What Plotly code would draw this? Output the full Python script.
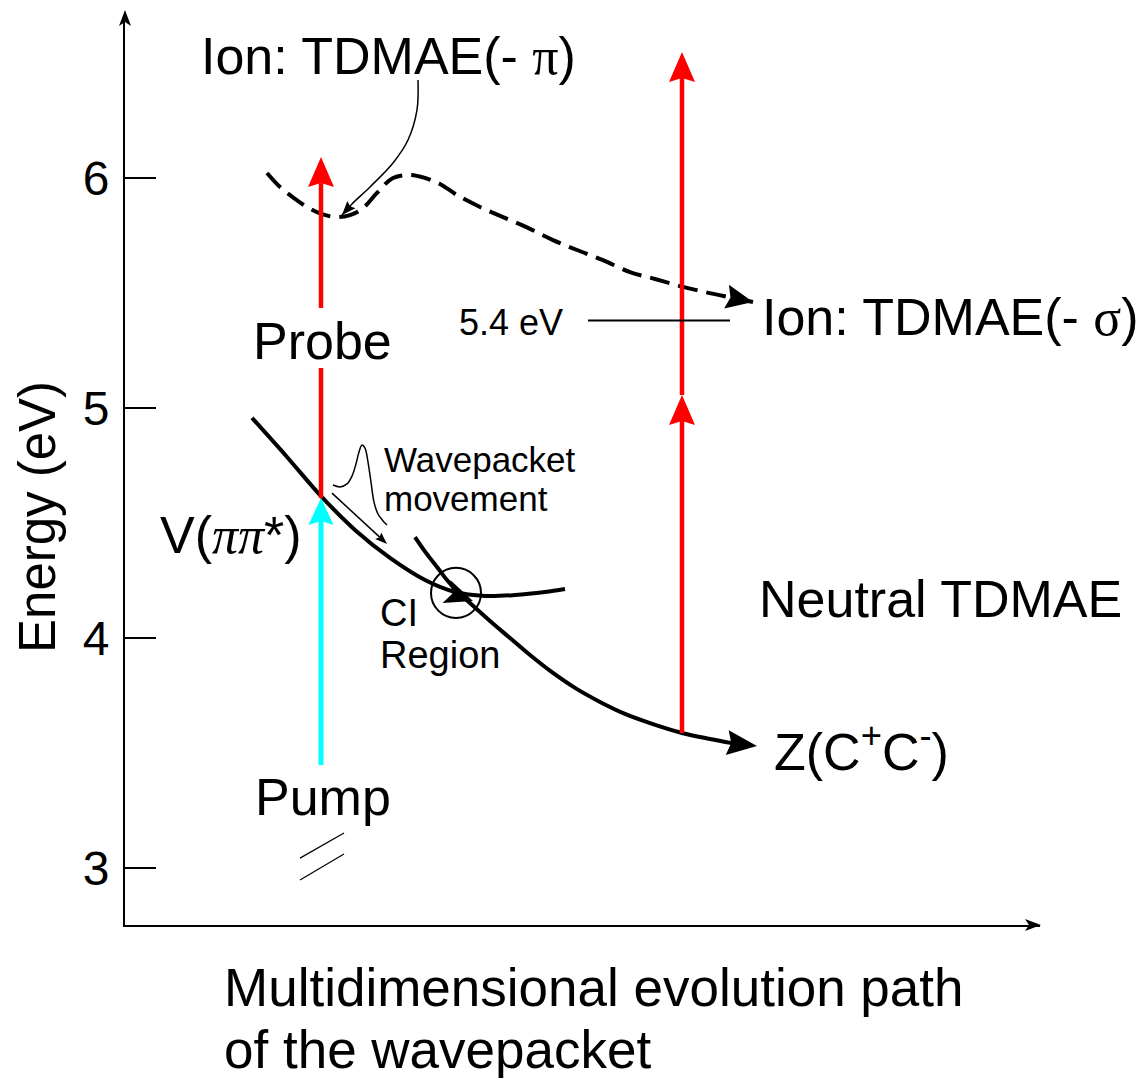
import plotly.graph_objects as go

# ---------------- data (path coordinate s, energy E in eV) ----------------
ion_s = [1.42, 1.55, 1.70, 1.82, 1.97, 2.12, 2.25, 2.37, 2.52, 2.68, 2.85, 3.00, 3.15,
         3.32, 3.55, 3.78, 4.03, 4.28, 4.52, 4.78, 5.05, 5.30, 5.55, 5.80, 6.03]
ion_E = [6.022, 5.961, 5.909, 5.874, 5.843, 5.830, 5.839, 5.865, 5.935, 6.000, 6.013, 6.000, 5.974,
         5.926, 5.874, 5.830, 5.783, 5.730, 5.687, 5.643, 5.591, 5.561, 5.530, 5.504, 5.483]
ion_tip = (6.28, 5.461)

v_s = [1.27, 1.62, 1.96, 2.30, 2.65, 3.00, 3.30, 3.60, 3.90, 4.20, 4.40]
v_E = [4.957, 4.787, 4.617, 4.470, 4.348, 4.252, 4.200, 4.183, 4.187, 4.200, 4.213]

z_s = [2.90, 3.01, 3.12, 3.22, 3.32, 3.45, 3.65, 3.85, 4.05, 4.28, 4.50, 4.75, 5.00, 5.25, 5.57, 5.85, 6.07]
z_E = [4.439, 4.370, 4.309, 4.252, 4.204, 4.152, 4.074, 4.000, 3.926, 3.848, 3.783, 3.722, 3.670, 3.630, 3.587, 3.561, 3.543]
z_tip = (6.32, 3.530)

# pump / probe transitions
pump_s = 1.96
pump_E = [3.448, 4.609]
probe1_s = 1.96
probe1_low = [4.609, 5.174]
probe1_high = [5.435, 6.091]
probe2_s = 5.57
probe2_low = [3.587, 5.057]
probe2_high = [5.057, 6.548]

ion_threshold = 5.38          # "5.4 eV" marker
threshold_s = [4.63, 6.05]

# wavepacket sketch
wp_s = [2.08, 2.15, 2.22, 2.27, 2.31, 2.34, 2.37, 2.40, 2.43, 2.46, 2.49, 2.53, 2.58, 2.62]
wp_E = [4.665, 4.657, 4.670, 4.704, 4.757, 4.809, 4.839, 4.826, 4.765, 4.678, 4.591, 4.539, 4.509, 4.491]
wp_arrow_s = [2.07, 2.62]
wp_arrow_E = [4.630, 4.409]

# pointer from "Ion: TDMAE(- pi)" label
ptr_s = [2.93, 2.92, 2.83, 2.68, 2.45, 2.27, 2.17]
ptr_E = [6.426, 6.296, 6.165, 6.065, 5.961, 5.887, 5.839]

# conical intersection marker
ci_center = (3.31, 4.196)
ci_radius_s = 0.25
ci_radius_E = 0.109
ci_arrow_from = (3.20, 4.204)
ci_arrow_tip = (3.48, 4.161)

# axis-break slashes
slash1_s = [1.75, 2.19]
slash1_E = [3.043, 3.152]
slash2_s = [1.75, 2.19]
slash2_E = [2.948, 3.061]

y_ticks = [3, 4, 5, 6]

# ---------------- geometry helpers ----------------
W, H = 1148, 1078
ML, MR, MT, MB = 125, 108, 15, 153
S_MAX = 9.15
E_TOP, E_BOT = 6.7087, 2.7522
PW, PH = W - ML - MR, H - MT - MB


def px(s):
    return ML + s * PW / S_MAX


def py(E):
    return MT + (E_TOP - E) * PH / (E_TOP - E_BOT)


def ds(p):
    return (p - ML) * S_MAX / PW


def dE(p):
    return E_TOP - (p - MT) * (E_TOP - E_BOT) / PH


def head(tip, frm, length, width, notch=4.0):
    tx, ty = px(tip[0]), py(tip[1])
    fx, fy = px(frm[0]), py(frm[1])
    dx, dy = tx - fx, ty - fy
    n = (dx * dx + dy * dy) ** 0.5
    ux, uy = dx / n, dy / n
    bx, by = tx - ux * length, ty - uy * length
    nx, ny = -uy, ux
    pts = [(tx, ty), (bx + nx * width / 2, by + ny * width / 2),
           (tx - ux * (length - notch), ty - uy * (length - notch)),
           (bx - nx * width / 2, by - ny * width / 2)]
    return "M " + " L ".join(f"{ds(x):.5f},{dE(y):.5f}" for x, y in pts) + " Z"


def line_end(tip, frm, length, notch=4.0):
    tx, ty = px(tip[0]), py(tip[1])
    fx, fy = px(frm[0]), py(frm[1])
    dx, dy = tx - fx, ty - fy
    n = (dx * dx + dy * dy) ** 0.5
    k = (length - notch) / n
    return ds(tx - dx * k), dE(ty - dy * k)


FONT = "Liberation Sans, Arial, sans-serif"
SERIF = "Liberation Serif, Times New Roman, serif"
RED, CYAN = "#ff0000", "#00ffff"

fig = go.Figure()
shapes = []


def add_line(xs, ys, color="black", width=4, dash=None, spline=False):
    ln = dict(color=color, width=width)
    if dash:
        ln["dash"] = dash
    if spline:
        ln["shape"] = "spline"
        ln["smoothing"] = 1.0
    fig.add_trace(go.Scatter(x=xs, y=ys, mode="lines", line=ln, hoverinfo="skip", showlegend=False))


def add_head(tip, frm, length, width, color="black", notch=4.0):
    shapes.append(dict(type="path", xref="x", yref="y", path=head(tip, frm, length, width, notch),
                       fillcolor=color, line=dict(width=0), layer="above"))


# ion curve (dashed) with arrow
add_line(ion_s + [ion_tip[0]], ion_E + [ion_tip[1]], width=4, dash="20px,9px", spline=True)
add_head(ion_tip, (ion_s[-1], ion_E[-1]), 27, 24)

# neutral curves
add_line(v_s, v_E, width=4, spline=True)
add_line(z_s, z_E, width=4, spline=True)
add_head(z_tip, (z_s[-1], z_E[-1]), 30, 25)

# pump (cyan)
p_tip = (pump_s, pump_E[1])
p_end = line_end(p_tip, (pump_s, pump_E[0]), 27)
add_line([pump_s, pump_s], [pump_E[0], p_end[1]], color=CYAN, width=5)
add_head(p_tip, (pump_s, pump_E[0]), 27, 25, color=CYAN)

# probe 1 (red)
add_line([probe1_s, probe1_s], probe1_low, color=RED, width=4.5)
t1 = (probe1_s, probe1_high[1])
e1 = line_end(t1, (probe1_s, probe1_high[0]), 30)
add_line([probe1_s, probe1_s], [probe1_high[0], e1[1]], color=RED, width=4.5)
add_head(t1, (probe1_s, probe1_high[0]), 30, 26, color=RED)

# probe 2 (red, two photons)
t2a = (probe2_s, probe2_low[1])
e2a = line_end(t2a, (probe2_s, probe2_low[0]), 30)
add_line([probe2_s, probe2_s], [probe2_low[0], e2a[1]], color=RED, width=4.5)
add_head(t2a, (probe2_s, probe2_low[0]), 30, 26, color=RED)
t2b = (probe2_s, probe2_high[1])
e2b = line_end(t2b, (probe2_s, probe2_high[0]), 30)
add_line([probe2_s, probe2_s], [probe2_high[0], e2b[1]], color=RED, width=4.5)
add_head(t2b, (probe2_s, probe2_high[0]), 30, 26, color=RED)

# 5.4 eV threshold
add_line(threshold_s, [ion_threshold, ion_threshold], width=2)

# wavepacket sketch and its arrow
add_line(wp_s, wp_E, width=1.5, spline=True)
wt = (wp_arrow_s[1], wp_arrow_E[1])
wf = (wp_arrow_s[0], wp_arrow_E[0])
we = line_end(wt, wf, 12, 2)
add_line([wf[0], we[0]], [wf[1], we[1]], width=1.5)
add_head(wt, wf, 12, 9, notch=2)

# pointer curve
pt = (ptr_s[-1], ptr_E[-1])
add_line(ptr_s, ptr_E, width=1.5, spline=True)
add_head(pt, (ptr_s[-2], ptr_E[-2]), 14, 11, notch=2)

# CI circle and arrow
shapes.append(dict(type="circle", xref="x", yref="y",
                   x0=ci_center[0] - ci_radius_s, x1=ci_center[0] + ci_radius_s,
                   y0=ci_center[1] - ci_radius_E, y1=ci_center[1] + ci_radius_E,
                   line=dict(color="black", width=2), layer="above"))
add_head(ci_arrow_tip, ci_arrow_from, 28, 24, notch=6)

# slashes
add_line(slash1_s, slash1_E, width=1.2)
add_line(slash2_s, slash2_E, width=1.2)


# axis arrowheads (paper coords)
def paper_tri(pts):
    return "M " + " L ".join(f"{(x - ML) / PW:.5f},{(H - MB - y) / PH:.5f}" for x, y in pts) + " Z"


shapes.append(dict(type="path", xref="paper", yref="paper",
                   path=paper_tri([(125, 10), (119, 26), (125, 22), (131, 26)]),
                   fillcolor="black", line=dict(width=0)))
shapes.append(dict(type="path", xref="paper", yref="paper",
                   path=paper_tri([(1041, 925), (1025, 919), (1029, 925), (1025, 931)]),
                   fillcolor="black", line=dict(width=0)))

# ---------------- text ----------------
ann = []


def text(x, y, t, size, xanchor="center", xref="x", yref="y", angle=0):
    ann.append(dict(x=x, y=y, xref=xref, yref=yref, text=t, showarrow=False,
                    xanchor=xanchor, yanchor="middle", textangle=angle,
                    font=dict(family=FONT, size=size, color="black")))


def greek(ch, italic=False):
    style = f"font-family:{SERIF};" + ("font-style:italic;" if italic else "")
    return f"<span style='{style}'>{ch}</span>"


text(2.63, 6.530, "Ion: TDMAE(- " + greek("π") + ")", 52)
text(6.35, 5.395, "Ion: TDMAE(- " + greek("σ") + ")", 52, xanchor="left")
text(1.97, 5.290, "Probe", 52)
text(1.98, 3.310, "Pump", 52)
text(1.06, 4.446, "V(" + greek("ππ", italic=True) + "*)", 52)
text(2.57, 4.778, "Wavepacket", 35, xanchor="left")
text(2.57, 4.608, "movement", 35, xanchor="left")
text(2.53, 4.108, "CI", 38, xanchor="left")
text(2.53, 3.925, "Region", 38, xanchor="left")
text(6.32, 4.168, "Neutral TDMAE", 52, xanchor="left")
text(6.47, 3.520, "Z(C<sup>+</sup>C<sup>-</sup>)", 52, xanchor="left")
text(4.40, 5.372, "5.4 eV", 36, xanchor="right")

text((37 - ML) / PW, (H - MB - 517) / PH, "Energy (eV)", 51, xref="paper", yref="paper", angle=-90)
text((222 - ML) / PW, (H - MB - 987) / PH, "Multidimensional evolution path", 53, xanchor="left",
     xref="paper", yref="paper")
text((222 - ML) / PW, (H - MB - 1049) / PH, "of the wavepacket", 53, xanchor="left",
     xref="paper", yref="paper")

fig.update_layout(
    width=W, height=H, margin=dict(l=ML, r=MR, t=MT, b=MB, pad=0),
    plot_bgcolor="white", paper_bgcolor="white", showlegend=False,
    shapes=shapes, annotations=ann,
    xaxis=dict(range=[0, S_MAX], showline=True, linecolor="black", linewidth=2,
               showticklabels=False, ticks="", showgrid=False, zeroline=False, fixedrange=True),
    yaxis=dict(range=[E_BOT, E_TOP], showline=True, linecolor="black", linewidth=2,
               tickvals=y_ticks, ticktext=[str(v) for v in y_ticks], ticks="inside", ticklen=31,
               tickwidth=2, tickcolor="black", showgrid=False, zeroline=False,
               tickfont=dict(family=FONT, size=48, color="black"), ticklabelstandoff=4,
               fixedrange=True),
)

fig.write_html("out.html", config={"displayModeBar": False},
               post_script="document.body.style.margin='0px';document.body.style.overflow='hidden';")
